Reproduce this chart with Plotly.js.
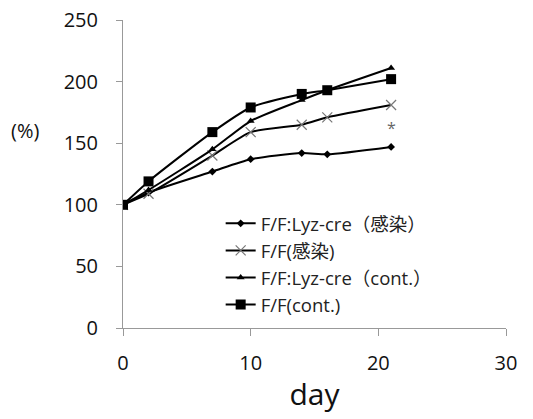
<!DOCTYPE html>
<html><head><meta charset="utf-8">
<script src="https://cdn.plot.ly/plotly-3.0.1.min.js"></script>
<style>html,body{margin:0;padding:0;background:#fff}#chart{width:533px;height:419px}</style>
</head><body><div id="chart"></div>
<script>
const days = [0, 2, 7, 10, 14, 16, 21];
const seriesNames = ["F/F:Lyz-cre（感染）", "F/F(感染)", "F/F:Lyz-cre（cont.）", "F/F(cont.)"];
const lyzInfected = [100, 110, 127, 137, 142, 141, 147];
const ffInfected = [100, 109, 140, 159, 165, 171, 181];
const lyzCont = [100, 112, 145, 168, 185, 193, 211];
const ffCont = [100, 119, 159, 179, 190, 193, 202];
const xTicks = [0, 10, 20, 30];
const yTicks = [0, 50, 100, 150, 200, 250];
const starDay = 21, starValue = 162;

const font = "Open Sans, 'Noto Sans CJK JP', sans-serif";
const mk = (y, name, sym, size, color, lw) => ({
  x: days, y: y, name: name, type: 'scatter', mode: 'lines+markers',
  line: {color: '#000', width: 2, shape: 'spline', smoothing: 0.6},
  marker: {symbol: sym, size: size, color: color, line: {color: color, width: lw}}
});
const data = [
  mk(lyzInfected, seriesNames[0], 'diamond', 6, '#000', 0),
  mk(ffInfected, seriesNames[1], 'x-thin-open', 10, '#777', 1.2),
  mk(lyzCont, seriesNames[2], 'triangle-up', 7, '#000', 0),
  mk(ffCont, seriesNames[3], 'square', 10, '#000', 0)
];
const layout = {
  width: 533, height: 419,
  margin: {l: 123, r: 27, t: 20, b: 91},
  paper_bgcolor: '#fff', plot_bgcolor: '#fff',
  showlegend: true,
  legend: {x: 0.255, y: 0.40, xanchor: 'left', yanchor: 'top', bgcolor: 'rgba(0,0,0,0)',
           font: {family: font, size: 18.5, color: '#222'}, tracegroupgap: 0, itemwidth: 30},
  xaxis: {range: [0, 30], tickvals: xTicks, showgrid: false, zeroline: false,
          showline: true, linecolor: '#999', linewidth: 1, ticks: 'outside', ticklen: 7,
          tickcolor: '#999', ticklabelstandoff: 10, tickfont: {family: font, size: 20, color: '#111'},
          title: {text: 'day', font: {family: font, size: 30, color: '#111'}, standoff: 8}},
  yaxis: {range: [0, 250], tickvals: yTicks, showgrid: false, zeroline: false,
          showline: true, linecolor: '#999', linewidth: 1, ticks: 'outside', ticklen: 6,
          tickcolor: '#999', ticklabelstandoff: 14, tickfont: {family: font, size: 20, color: '#111'}},
  annotations: [
    {xref: 'paper', yref: 'y', x: -0.255, y: 160, text: '(%)', showarrow: false,
     font: {family: font, size: 20, color: '#111'}, xanchor: 'center'},
    {xref: 'x', yref: 'y', x: starDay, y: starValue, text: '*', showarrow: false,
     font: {family: font, size: 16, color: '#666'}}
  ]
};
Plotly.newPlot('chart', data, layout, {displayModeBar: false, staticPlot: true});
</script></body></html>
